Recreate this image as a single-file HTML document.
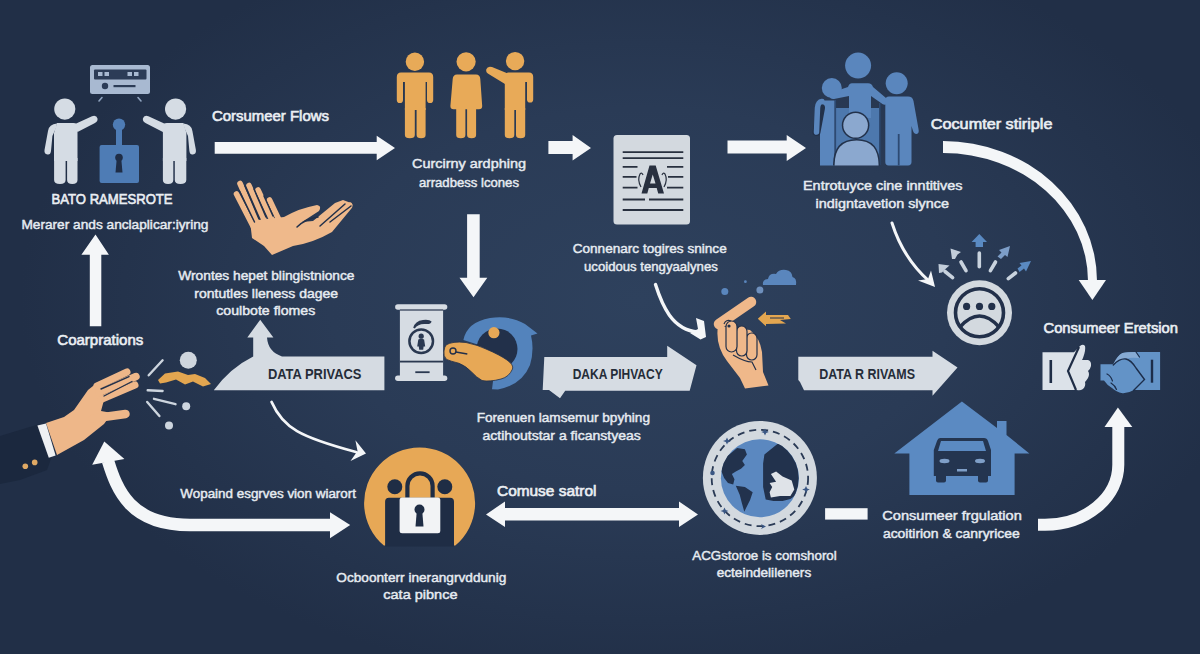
<!DOCTYPE html>
<html><head><meta charset="utf-8">
<style>
html,body{margin:0;padding:0;width:1200px;height:654px;overflow:hidden;background:#223049;}
svg{display:block;}
text{font-family:"Liberation Sans",sans-serif;}
.t{fill:#e6ebf1;font-size:13.2px;stroke:#e6ebf1;stroke-width:0.45;}
.b{fill:#eaeef3;font-size:14px;stroke:#eaeef3;stroke-width:0.6;}
.d{fill:#252c38;font-size:14px;font-weight:bold;}
.w{fill:#f4f6f8;}
</style></head>
<body>
<svg width="1200" height="654" viewBox="0 0 1200 654">
<defs>
<radialGradient id="bg" cx="640" cy="300" r="620" gradientUnits="userSpaceOnUse" gradientTransform="translate(640 300) scale(1 0.62) translate(-640 -300)">
<stop offset="0" stop-color="#2e415d"/>
<stop offset="0.5" stop-color="#2a3b56"/>
<stop offset="1" stop-color="#212f47"/>
</radialGradient>
<clipPath id="gc"><circle cx="759.7" cy="478" r="39"/></clipPath>
</defs>
<rect width="1200" height="654" fill="#223049"/>
<rect width="1200" height="654" fill="url(#bg)"/>

<!-- ===== ARROWS ===== -->
<g class="w">
<polygon points="214.7,142 376.7,142 376.7,135.8 395,148 376.7,160.3 376.7,153.7 214.7,153.7"/>
<polygon points="548.4,141 572.6,141 572.6,135 591,148 572.6,160.4 572.6,154 548.4,154"/>
<polygon points="727.5,140.5 786.7,140.5 786.7,135 806,148 786.7,161 786.7,153.4 727.5,153.4"/>
<polygon points="467.1,214.3 479.7,214.3 479.7,277.7 487.3,277.7 473.5,297.3 459.5,277.7 467.1,277.7"/>
<polygon points="89.8,326.3 101.3,326.3 101.3,254.8 108.9,254.8 95.5,234.6 81.4,254.8 89.8,254.8"/>
<polygon points="486,514.4 505,501.6 505,508 679,508 679,501.6 698,514.4 679,527 679,520.4 505,520.4 505,527"/>
<rect x="825.1" y="508.2" width="42.5" height="11.4"/>
<!-- big curve top right -->
<path d="M943,141 A154,140 0 0 1 1097,281 L1088,281 A145,128 0 0 0 943,153 Z"/>
<polygon points="1078.7,280 1106,280 1092.4,300"/>
<!-- bottom right curve -->
<path d="M1038,524.8 H1045 A73.3,60 0 0 0 1118.3,464.8 V426" fill="none" stroke="#f4f6f8" stroke-width="12"/>
<polygon points="1104.5,427 1132.3,427 1117.9,407.5"/>
<!-- big U arrow bottom left -->
<path d="M108,461 C117,490 130,525 190,525 L331,525" fill="none" stroke="#f4f6f8" stroke-width="12.5"/>
<polygon points="92.2,464.7 104.3,441.4 124.4,459.1"/>
<polygon points="330,512.2 350.2,525 330,538.3"/>
</g>
<!-- thin curves -->
<g fill="none" stroke="#f4f6f8" stroke-linecap="round">
<path d="M271.6,402 C283,428 300,437 356,452" stroke-width="2.8"/>
<path d="M655.5,284.6 C662,305 672,330 698,332" stroke-width="3.4"/>
<path d="M892,223 C899,245 912,266 929,281" stroke-width="3"/>
</g>
<g class="w">
<polygon points="366,453.6 355.4,440.2 357.5,451 350.5,461"/>
<polygon points="696,318 704,321 706,337 700.5,339.5 690,333 698,329"/>
<polygon points="935,287 931,270.5 928,279 918,280.5"/>
</g>

<!-- ===== TOP LEFT GROUP ===== -->
<g id="tl">
<rect x="90" y="65" width="60" height="29" rx="2.5" fill="#a8b9d1"/>
<rect x="94" y="69.5" width="52.5" height="10" rx="1" fill="#2c3c57"/>
<g fill="#a8b9d1"><rect x="98" y="72" width="4.5" height="4"/><rect x="104.5" y="72" width="4.5" height="4"/><rect x="127.5" y="72" width="4.5" height="4"/><rect x="134" y="72" width="4.5" height="4"/></g>
<circle cx="105" cy="86" r="3.2" fill="#2c3c57"/>
<rect x="113.5" y="85" width="22" height="2.2" fill="#2c3c57"/>
<g stroke="#8fa3bf" stroke-width="1.6" stroke-linecap="round" fill="none"><path d="M99,101 L102,97.5"/><path d="M141,101 L138,97.5"/></g>
<g id="pl" fill="#d5dce4">
<circle cx="64.8" cy="109.1" r="10.6"/>
<path d="M57,122.9 H73.5 Q77.5,122.9 77.5,127 V161 H54 V133 Z"/>
<path d="M57,123.5 Q49,124 48,131 L44.5,150 Q44,154 47.5,154.5 Q50.5,155 51,151 L52.4,136 L56,128 Z"/>
<path d="M54.1,158 H65.6 V180 Q65.6,184 60,184 Q54.1,184 54.1,180Z M67.1,158 H77.5 V180 Q77.5,184 72.3,184 Q67.1,184 67.1,180Z"/>
<path d="M74,124.5 L92,116.2 Q96.5,114.8 97.5,118.5 Q98,121.5 94.5,123.2 L77.5,132 Z"/>
</g>
<use href="#pl" transform="translate(240.4,0) scale(-1,1)"/>
<g fill="#4e7cb5">
<circle cx="119" cy="124.6" r="6.2"/>
<rect x="116" y="124" width="6" height="23"/>
<rect x="99.6" y="145" width="39.4" height="38" rx="2"/>
</g>
<g fill="#1f2d46"><circle cx="119" cy="157.5" r="3.8"/><polygon points="116.8,158 121.2,158 122.5,172.5 115.5,172.5"/></g>
</g>

<!-- ===== ORANGE PEOPLE ===== -->
<g fill="#e8aa58">
<circle cx="414.9" cy="61.8" r="9.2"/>
<path d="M401,72.5 H429 Q433.2,72.5 433.2,77 V100 Q433.2,103.1 430.1,103.1 Q427,103.1 427,100 V82 H425.6 V110 H404.9 V82 H403 V100 Q403,103.1 399.9,103.1 Q396.8,103.1 396.8,100 V77 Q396.8,72.5 401,72.5Z"/>
<path d="M404.9,108 H414.8 V135 Q414.8,138.3 409.85,138.3 Q404.9,138.3 404.9,135Z M416.6,108 H425.6 V135 Q425.6,138.3 421.1,138.3 Q416.6,138.3 416.6,135Z"/>
<circle cx="466.1" cy="61.8" r="9.6"/>
<path d="M457,74.4 H476 Q480,74.4 480.3,79 L482.2,106 Q482.2,109.2 479,109.2 H453.6 Q450.4,109.2 450.4,106 L452.7,79 Q453.1,74.4 457,74.4Z"/>
<path d="M456.2,107 H465.4 V135 Q465.4,138.3 460.8,138.3 Q456.2,138.3 456.2,135Z M467.1,107 H476.1 V135 Q476.1,138.3 471.6,138.3 Q467.1,138.3 467.1,135Z"/>
<circle cx="515.1" cy="61.1" r="9.2"/>
<path d="M508,72.5 H529 Q533.2,72.5 533.2,77 V99.5 Q533.2,102.6 530.1,102.6 Q527,102.6 527,99.5 V82 H525.2 V110 H504.8 V79 Q505,72.5 508,72.5Z"/>
<path d="M504.8,108 H514.3 V135 Q514.3,138.3 509.55,138.3 Q504.8,138.3 504.8,135Z M516,108 H525.2 V135 Q525.2,138.3 520.6,138.3 Q516,138.3 516,135Z"/>
<path d="M509,74 L492,67 Q487.5,65.8 486.3,69.3 Q485.5,72.6 489,74.2 L505,84Z"/>
</g>

<!-- ===== DOCUMENT ===== -->
<rect x="613.5" y="135" width="76.5" height="89.6" rx="3.5" fill="#d3d9df"/>
<g stroke="#28303f" stroke-width="1.8">
<path d="M622.7,152.1 H683.3 M622.7,158.2 H683.3 M622.7,166.8 H637.5 M667,166.8 H683.3 M622.7,176.9 H636.5 M668,176.9 H683.3 M622.7,187.6 H637.5 M667,187.6 H683.3 M622.7,199.5 H645 M649,199.5 H683.3 M622.7,210 H683.3"/>
</g>
<path d="M641.5,193.4 L649.5,165.5 H655.7 L664,193.4 H658.2 L656.7,188 H648.8 L647.3,193.4Z M650,183.6 H655.5 L652.75,174.5Z" fill="#28303f" fill-rule="evenodd"/>
<g stroke="#28303f" stroke-width="1.2" fill="none"><path d="M641,187 Q637,180 640,174 Q642,172 643,175"/><path d="M664,187 Q668,180 665,174 Q663,172 662,175"/></g>

<!-- ===== FAMILY ===== -->
<g fill="#5a86bd">
<rect x="836" y="108" width="44" height="57" fill="#4d78ad"/>
<circle cx="858.1" cy="65.6" r="13"/>
<path d="M852,83.2 H868 Q872,83.2 873,87 L886,98 Q889,101 887,104 Q884,106 881,103 L871,96 V118 H849 V96 L834,99 Q830,99.5 829.5,96 Q829.5,93 833,92 L848,87 Q849,83.2 852,83.2Z"/>
<circle cx="831.8" cy="88" r="10"/>
<path d="M824,100.4 H834.6 V165.4 H820 V106 Q820,100.4 824,100.4Z"/>
<path d="M821,108 L816.5,132" stroke="#22314a" stroke-width="8" stroke-linecap="round"/>
<path d="M822,101.5 Q818,102 817.5,108 L816.5,132" stroke="#5a86bd" stroke-width="5.5" stroke-linecap="round" fill="none"/>
<circle cx="896.7" cy="83.2" r="11"/>
<path d="M889,96.6 H908 Q912.5,96.6 913.5,101 L918.5,129 Q919.5,133.5 916.5,134 Q914,134.5 913,131 L911.5,126 V162 Q911.5,165.4 908,165.4 H888.5 Q885.3,165.4 885.3,162 V101 Q885.3,96.6 889,96.6Z"/>
</g>
<g fill="#2d4a73"><rect x="897.8" y="134" width="1.8" height="31.4"/><rect x="834.6" y="100" width="1.5" height="65.4"/><rect x="879" y="103" width="1.5" height="62"/></g>
<circle cx="855.6" cy="125.3" r="13.8" fill="#22314a"/>
<path d="M833,165.4 Q833,139 856.6,139 Q880,139 880,165.4Z" fill="#22314a"/>
<g fill="#8ba8cf">
<circle cx="855.6" cy="125.3" r="12.3"/>
<path d="M834.6,165.4 Q834.6,140.6 856.6,140.6 Q878.6,140.6 878.6,165.4Z"/>
</g>

<!-- ===== FACE ICON ===== -->
<circle cx="979.5" cy="312.8" r="32.5" fill="#d3d9df"/>
<circle cx="979.5" cy="312.8" r="24" fill="#d3d9df" stroke="#22304a" stroke-width="3.6"/>
<g fill="#22304a"><circle cx="966.6" cy="306.4" r="3.6"/><circle cx="979.5" cy="306.4" r="3.6"/><circle cx="991.8" cy="306.4" r="3.6"/></g>
<path d="M960,327 Q979.5,305 999,327" fill="none" stroke="#22304a" stroke-width="3.4"/>
<g stroke-width="3.6" stroke-linecap="round" fill="none" stroke="#c9d3de">
<path d="M952.6,277.6 L945,271.5"/>
<path d="M966,270.7 L961,262"/>
<path d="M979.3,266.7 V253"/>
<path d="M990.4,270.7 L995.5,262"/>
<path d="M1008.3,278.6 L1015.5,273"/>
</g>
<g>
<polygon points="938.5,264 949.5,265.5 946,268.5 942,272.5 939,273" fill="#c2cdda"/>
<polygon points="950.5,248.5 961,252 957.5,254.5 955,259 952,259" fill="#c2cdda"/>
<polygon points="979.3,234 987,242 983,242 983,247 975.6,247 975.6,242 971.6,242" fill="#5a8ac2"/>
<polygon points="1010,246 1007.5,257 1005,255 1001,259 997.5,256.5 1001.5,252.5 999,250" fill="#7d9ec8"/>
<polygon points="1031,261 1026,271.5 1024,268.5 1019.5,272 1017.5,268.5 1021.5,265.5 1019.5,263" fill="#5a8ac2"/>
</g>

<!-- ===== THUMB + HANDSHAKE ===== -->
<path d="M1042.5,352.2 H1074 L1080,346 Q1083,343.5 1085,346 Q1086,350 1083,358 L1082,360 H1088 Q1091.6,361 1091,366 Q1090,370 1088,371 Q1090,374 1088,378 Q1086,381 1085,382 Q1086,386 1083,389 Q1080,391 1077,390 H1042.5Z" fill="#dce2e9"/>
<path d="M1079,347 L1068,371 L1076,390" fill="none" stroke="#1f2d46" stroke-width="2.2"/>
<rect x="1049.5" y="360" width="2.6" height="23" fill="#1f2d46"/>
<path d="M1100.5,364.3 H1113.3 Q1117,356 1122.5,353 Q1128,351.9 1137,351.9 H1160.1 V390 H1134 Q1128,393.5 1122.5,393.2 Q1116,392 1112,388 Q1107,385 1104,380.4 H1100.5Z" fill="#6393c7"/>
<path d="M1113.3,364.3 Q1117,356 1122.5,353 Q1128,351.9 1136,352 L1139,358 Q1130,357 1126,359 Q1120,358 1113.3,364.3Z" fill="#86aad3"/>
<g fill="none" stroke="#1c2d4a" stroke-linecap="round">
<path d="M1113.3,365 Q1120,358 1126,359 Q1131,360 1136,368 L1144.5,379.5 L1133.5,390.5" stroke-width="1.4"/>
<path d="M1107,374 Q1111,376 1112.5,381 M1111,383 Q1115,385.5 1116.5,389.5 M1136,352 L1139.5,357" stroke-width="1.2"/>
</g>
<rect x="1150.8" y="359.7" width="2.4" height="23" fill="#1c2d4a"/>

<!-- ===== DATA R RIVAMS BANNER ===== -->
<path d="M798.3,356.7 H932.5 V350.8 L957.5,367.5 L932.5,395.8 V390.3 H804 L800,382 L798.3,380Z" fill="#d6dce3"/>
<text class="d" x="819.2" y="378.7" textLength="95.8" lengthAdjust="spacingAndGlyphs">DATA R RIVAMS</text>

<!-- ===== HOUSE ===== -->
<path d="M961.9,401.4 L997,428 V421 H1006.5 V435 L1029.4,453.6 H1014.6 V495.1 H909.4 V453.6 H894.3Z" fill="#5b8ac2"/>
<g fill="#243550">
<path d="M940,438 H984 Q987,438 988,441 L991,450 V476 H933.8 V450 L937,441 Q938,438 940,438Z"/>
<rect x="936" y="470" width="10" height="12.5" rx="2"/>
<rect x="978" y="470" width="10" height="12.5" rx="2"/>
</g>
<path d="M941,441 H983 L986,451 H938Z" fill="#5b8ac2"/>
<g fill="#7f9fc8"><ellipse cx="944.5" cy="461" rx="5" ry="2.2"/><ellipse cx="980" cy="461" rx="5" ry="2.2"/><rect x="957" y="469" width="10" height="2.5"/></g>

<!-- ===== GLOBE ===== -->
<circle cx="759.9" cy="477.9" r="57" fill="#d3d9df"/>
<circle cx="759.9" cy="478" r="48.2" fill="none" stroke="#2a3a55" stroke-width="1.8" stroke-dasharray="7 5"/>
<circle cx="759.9" cy="478.2" r="39" fill="#5b88c0"/>
<g fill="#22324d" clip-path="url(#gc)">
<path d="M722.8,458.4 L729.3,454.5 L737.1,448 L744.9,449.3 L746.9,454.5 L742.3,461 L744.9,464.9 L741,468.8 L735.8,471.4 L731.9,474 L734.5,479.2 L733.2,484.4 L728,483.1 L724.1,477.9 L721.5,471.4Z"/>
<path d="M735.8,485.7 L744.9,487 L752.7,492.2 L750.1,500 L746.2,507.8 L744.3,511.7 L741.7,502.6 L739.7,494.8Z"/>
<path d="M764.4,454.5 L770.9,449.3 L777.4,444 L787.8,444 L800,456 L802,474 L800,492 L790.4,499 L782.6,501 L773.5,501 L765.7,499.5 L763.1,487 L763.1,474 L763.1,463.6Z"/>
</g>
<path d="M770.9,474 L776.1,471.4 L782.6,476.6 L791.7,480.5 L794.3,489.6 L790.4,496.1 L780,496.1 L770.9,497.4 L769.6,492.2 L772.2,487 L769.6,483.1 L776.1,481.8Z" fill="#dfe3e8"/>
<g fill="#3a5784"><circle cx="712.5" cy="473" r="2.3"/>
<path d="M765,428.5 L766.2,431 L768.8,432 L766.2,433 L765,435.5 L763.8,433 L761.2,432 L763.8,431Z"/>
<path d="M806,486 L807.2,488.5 L809.8,489.5 L807.2,490.5 L806,493 L804.8,490.5 L802.2,489.5 L804.8,488.5Z"/>
<path d="M727,437.5 L728.2,440 L731,441 L728.2,442 L727,444.5 L725.8,442 L723,441 L725.8,440Z"/>
<path d="M724.5,507.5 L725.7,510 L728.5,511 L725.7,512 L724.5,514.5 L723.3,512 L720.5,511 L723.3,510Z"/>
<path d="M761,524 L766,526.5 L761,529 L762.5,526.5Z"/></g>

<!-- ===== ORANGE LOCK CIRCLE ===== -->
<path d="M383.9,545.5 A55.5,55.5 0 1 1 455.3,545.5Z" fill="#e7a856"/>
<g fill="#1f2d45">
<circle cx="394.8" cy="486.7" r="7.5"/>
<circle cx="444.8" cy="486.7" r="7.5"/>
<path d="M389,497.7 H450 Q454,497.7 454,501.7 V546.5 H385.1 V501.7 Q385.1,497.7 389,497.7Z"/>
</g>
<path d="M407.4,499 V486 A12.6,12.6 0 0 1 432.6,486 V499" fill="none" stroke="#1f2d45" stroke-width="4.2"/>
<rect x="399.6" y="497.6" width="40.7" height="35.7" rx="2.5" fill="#f2f3f5"/>
<circle cx="419.5" cy="509.5" r="5" fill="#1f2d45"/>
<polygon points="416.8,511 422.2,511 423.5,526.4 415.5,526.4" fill="#1f2d45"/>

<!-- ===== DATA PRIVACS BANNER ===== -->
<path d="M213.8,390.3 Q230,368 253.2,356.5 V337.6 H247.3 L260.2,319.8 L273.4,337.6 H267 Q268,352 282,356.5 H384.4 V390.3Z" fill="#d5dbe2"/>
<text class="d" x="267.9" y="378.9" textLength="93.6" lengthAdjust="spacingAndGlyphs">DATA PRIVACS</text>

<!-- ===== DAKA PIHVACY BANNER ===== -->
<path d="M544.3,357 H667.2 V345.7 L696.5,365.2 L689.7,390.8 H565.2 L560,398.2 L549,390 H542.7Z" fill="#d6dce3"/>
<text class="d" x="572.7" y="378.7" textLength="90" lengthAdjust="spacingAndGlyphs">DAKA PIHVACY</text>

<!-- ===== PILLAR + KEY ===== -->
<rect x="395.1" y="304.3" width="52.2" height="5.4" rx="2.7" fill="#d6dce3"/>
<rect x="399.9" y="309" width="43.2" height="67" fill="#d6dce3"/>
<rect x="395.1" y="375.5" width="52.2" height="5.4" rx="2.7" fill="#d6dce3"/>
<rect x="399.9" y="360.7" width="43.2" height="1.8" fill="#2a3850"/>
<rect x="415.3" y="371.3" width="14.3" height="1.8" fill="#2a3850"/>
<rect x="399.9" y="309.4" width="43.2" height="1.2" fill="#2a3850"/>

<circle cx="421.2" cy="341.3" r="11.8" fill="none" stroke="#2a3850" stroke-width="2.5"/>
<path d="M413.2,327.8 Q415,321 423,320 Q429.5,319.3 431.6,321.5 Q431,324.5 425.5,324 Q418,323.5 414.8,328.5 Z" fill="#2a3850"/>
<g fill="#2a3850"><circle cx="421.2" cy="336.2" r="2.6"/><path d="M418.3,339.5 Q421.2,338 424.1,339.5 L425.2,346.5 H423.6 L423.2,349.8 H419.2 L418.8,346.5 H417.2Z"/></g>
<path d="M463.4,340 Q467,322 490,318 Q510,315 525,324 L537.5,333.4 L531,335.5 Q534.5,350 530,365 Q522,385 498,389.5 L492,389.3 L497,349 L476,344Z" fill="#5383bc"/>
<circle cx="497" cy="349" r="20.5" fill="#22304a"/>
<circle cx="493.9" cy="332.7" r="5.6" fill="#e7a856"/>
<path d="M446,345 Q452,341 466,342.5 Q478,345 486,349 Q500,355 507,360 Q514,365 512.5,369 Q509,377 501,379 Q490,382 482,380.5 Q476,377 472,372.4 Q466,366 459,363.3 Q450,361 446.5,359.4 Q443,356 444,351 Q444.5,347 446,345Z" fill="#e7a856" stroke="#22304a" stroke-width="0.8"/>
<circle cx="453" cy="351" r="3" fill="none" stroke="#22304a" stroke-width="1.4"/>
<path d="M455.8,352 L467.3,354" stroke="#22304a" stroke-width="1.4"/>

<!-- ===== TOP HANDS ===== -->
<g fill="#efb98b" stroke="#efb98b" stroke-linecap="round">
<path d="M236.5,194 L254,228 M240,183.5 L258,224 M249,185.5 L265,222 M258,190 L272,220 M269.5,200 L279,220" stroke-width="5.6" fill="none"/>
<path d="M250,221 L284,217 Q300,208 317,205 Q322,206 319,211 L302,222 L313,221 L335,203 L343,200 L351,203 Q354,206 351,209 L332,232 Q313,243 293,246 L272,255 L264,246 L252,238Z" stroke="none"/>
<path d="M333,220 L350,205" stroke-width="5" fill="none"/>
</g>
<g stroke="#22304a" stroke-width="1.5" fill="none" stroke-linecap="round">
<path d="M239.5,191 L254.5,222"/><path d="M245,186 L259,219"/><path d="M254,189 L266,217"/><path d="M264,196 L273,216"/>
<path d="M297,227 Q305,219 318,217"/>
<path d="M320,226 L345,204"/>
<path d="M330,222 L351,206"/>
</g>

<!-- ===== LEFT HAND + SLEEVE ===== -->
<path d="M0,436 L38,424.5 L52,456 L47,470 L20,480 L0,484Z" fill="#1b283e"/>
<g fill="#eeb789" stroke="#eeb789" stroke-linecap="round">
<path d="M46,423 L64,417 L74,410 L88,390 L98,382 L104,400 L101,411 L112,413 L104,424 L84,440 L57,455Z" stroke="none"/>
<path d="M97,386 L127,372" stroke-width="7" fill="none"/>
<path d="M99,392.5 L136,376.5" stroke-width="7.4" fill="none"/>
<path d="M101,399.5 L135,385" stroke-width="7" fill="none"/>
<path d="M93,418.5 L125.5,414" stroke-width="8.5" fill="none"/>
</g>
<g stroke="#22304a" stroke-width="1.4" fill="none" stroke-linecap="round"><path d="M101,389 L129,376.6"/><path d="M104,396 L132,381.5"/></g>
<polygon points="37.4,425.6 46,423.5 55.6,455.6 48.8,457.7" fill="#eef0f3"/>
<g fill="#e0a964"><circle cx="25.3" cy="466.3" r="2.8"/><circle cx="34.7" cy="462.4" r="2.8"/></g>
<circle cx="188.3" cy="360.3" r="8.5" fill="#cfd6de"/>
<path d="M158,380 L165,373.5 L178,371.5 L188,375 L195,374 L205,378 L211,384 L203,386.5 L193,381.5 L185,384.5 L176,379.5 L166,382.5 L160,383.5Z" fill="#e3a650"/>
<g stroke="#cdd5de" stroke-width="2.4" stroke-linecap="round" fill="none">
<path d="M148.7,375.3 L162.6,360.3"/><path d="M147.7,390.3 L162.6,391"/><path d="M154,398.8 L175.5,404.2"/><path d="M147.2,402 L159.4,416"/>
</g>
<g fill="#cdd5de"><circle cx="186.2" cy="406.3" r="4"/><circle cx="169" cy="425.6" r="4"/></g>

<!-- ===== CENTER HAND ===== -->
<g fill="#efb88a">
<path d="M718,326 Q715,345 727,361 L740,378 L745,388.5 L768.5,385.5 L763,372 L762,352 Q760,338 750,330 Z"/>
<path d="M719,324 L751,302" stroke="#efb88a" stroke-width="10.5" stroke-linecap="round"/>
</g>
<g fill="#efb88a" stroke="#22304a" stroke-width="1.2">
<rect x="746.5" y="333" width="10.5" height="27" rx="5.2"/>
<rect x="736.5" y="326" width="10.5" height="30" rx="5.2"/>
<rect x="726" y="321" width="11" height="31" rx="5.5"/>
</g>
<path d="M724,324 Q726,319 731,321" fill="none" stroke="#22304a" stroke-width="1.2"/>
<path d="M733,355 Q745,362 752,362 L756,370" fill="none" stroke="#22304a" stroke-width="1.2"/>
<circle cx="729" cy="326" r="1.6" fill="#22304a"/>
<path d="M763,285 Q762,279.5 768,279 Q769,273 776,274 Q779,269 786,270 Q792,271 792.5,277 Q797,278 796,285Z" fill="#5a86bd"/>
<circle cx="724.8" cy="291.4" r="3.5" fill="#5a86bd"/>
<circle cx="759.9" cy="290" r="3.5" fill="#6f90bd"/>
<circle cx="745.4" cy="281.7" r="1.4" fill="#5a86bd"/>
<path d="M757.8,318.8 L766,311.5 L766,315 L788,315 L790.8,319 L780,320 L786,323.5 L766,324 L766,326.3Z" fill="#e3a650"/>
<path d="M770,318 H784" stroke="#22304a" stroke-width="1"/>

<!-- ===== TEXTS ===== -->
<text class="b" x="51.6" y="203.6" font-size="13.4" textLength="121" lengthAdjust="spacingAndGlyphs">BATO RAMESROTE</text>
<text class="t" x="21.4" y="229.4" font-size="12.5" textLength="187" lengthAdjust="spacingAndGlyphs">Merarer ands anclaplicar:iyring</text>
<text class="b" x="212" y="120.8" font-size="14.5" textLength="117" lengthAdjust="spacingAndGlyphs">Corsumeer Flows</text>
<text class="t" x="412" y="168.4" textLength="114" lengthAdjust="spacingAndGlyphs">Curcirny ardphing</text>
<text class="t" x="419" y="186.8" textLength="100" lengthAdjust="spacingAndGlyphs">arradbess lcones</text>
<text class="b" x="930.8" y="129" textLength="121.6" lengthAdjust="spacingAndGlyphs">Cocumter stiriple</text>
<text class="t" x="803" y="189.5" textLength="159.5" lengthAdjust="spacingAndGlyphs">Entrotuyce cine inntitives</text>
<text class="t" x="815.6" y="207.6" textLength="133.3" lengthAdjust="spacingAndGlyphs">indigntavetion slynce</text>
<text class="t" x="572.7" y="252.5" textLength="154" lengthAdjust="spacingAndGlyphs">Connenarc togires snince</text>
<text class="t" x="584" y="270.5" textLength="133.8" lengthAdjust="spacingAndGlyphs">ucoidous tengyaalynes</text>
<text class="t" x="178.3" y="279.6" textLength="176.2" lengthAdjust="spacingAndGlyphs">Wrontes hepet blingistnionce</text>
<text class="t" x="194.3" y="297.7" textLength="143.8" lengthAdjust="spacingAndGlyphs">rontutles lleness dagee</text>
<text class="t" x="216.3" y="314.8" textLength="99" lengthAdjust="spacingAndGlyphs">coulbote flomes</text>
<text class="b" x="57.3" y="345.4" font-size="13.5" textLength="86" lengthAdjust="spacingAndGlyphs">Coarprations</text>
<text class="b" x="1043.5" y="333.4" font-size="13" textLength="134.5" lengthAdjust="spacingAndGlyphs">Consumeer Eretsion</text>
<text class="t" x="476.7" y="422.2" textLength="173.3" lengthAdjust="spacingAndGlyphs">Forenuen lamsemur bpyhing</text>
<text class="t" x="482.5" y="439.7" textLength="158.3" lengthAdjust="spacingAndGlyphs">actihoutstar a ficanstyeas</text>
<text class="t" x="180.3" y="498.1" font-size="13.5" textLength="175.7" lengthAdjust="spacingAndGlyphs">Wopaind esgrves vion wiarort</text>
<text class="b" x="497" y="495.6" font-size="14.5" textLength="99.4" lengthAdjust="spacingAndGlyphs">Comuse satrol</text>
<text class="t" x="882.3" y="520.4" textLength="139.5" lengthAdjust="spacingAndGlyphs">Consumeer frgulation</text>
<text class="t" x="882.9" y="538.3" textLength="136.9" lengthAdjust="spacingAndGlyphs">acoitirion &amp; canryricee</text>
<text class="t" x="692.3" y="559.7" textLength="144.4" lengthAdjust="spacingAndGlyphs">ACGstoroe is comshorol</text>
<text class="t" x="716.7" y="577.4" textLength="94.5" lengthAdjust="spacingAndGlyphs">ecteindelileners</text>
<text class="t" x="336.3" y="581.7" textLength="170" lengthAdjust="spacingAndGlyphs">Ocboonterr inerangrvddunig</text>
<text class="t" x="383.3" y="599.2" textLength="74.2" lengthAdjust="spacingAndGlyphs">cata pibnce</text>

</svg>
</body></html>
